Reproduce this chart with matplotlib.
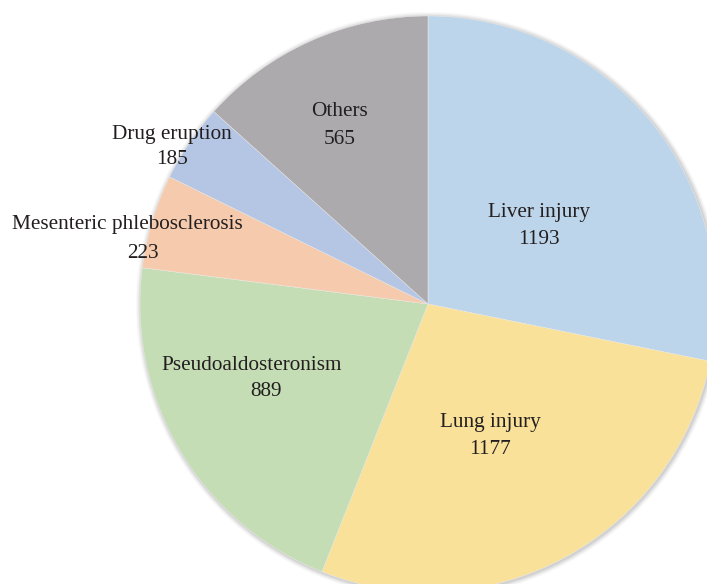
import matplotlib
matplotlib.use("Agg")
import matplotlib.pyplot as plt
from matplotlib.patches import Circle

# 副作用の報告件数
categories = ["Liver injury", "Lung injury", "Pseudoaldosteronism",
              "Mesenteric phlebosclerosis", "Drug eruption", "Others"]
counts = [1193, 1177, 889, 223, 185, 565]

colors = ["#bdd5ea", "#f9e19a", "#c5ddb5", "#f6cbad", "#b4c6e4", "#adaaad"]

# 名称と件数のラベル位置(ピクセル座標、上原点)
name_pos = [(539, 213), (490, 423), (252, 365), (127, 225), (172, 134), (340, 112)]
value_pos = [(539, 240), (490, 450), (266, 391), (143, 253), (172, 160), (340, 139)]

W, H = 707, 584
CX, CY, R = 428, 280, 288

fig = plt.figure(figsize=(W / 100, H / 100), dpi=100)
ax = fig.add_axes([0, 0, 1, 1])

# 外周の淡い影
for i, a in enumerate([0.04, 0.05, 0.07, 0.09, 0.1]):
    ax.add_patch(Circle((CX + 1, CY - 1), R + 5 - i, facecolor="#707070",
                        edgecolor="none", alpha=a, zorder=0))

ax.pie(counts, colors=colors, startangle=90, counterclock=False,
       radius=R, center=(CX, CY),
       wedgeprops=dict(edgecolor="#eeeeee", linewidth=0.3))

txt = dict(ha="center", va="center", fontsize=15.3,
           family="Liberation Serif", color="#231f20", zorder=5)
for name, val, (nx, ny), (vx, vy) in zip(categories, counts, name_pos, value_pos):
    ax.text(nx, H - ny, name, **txt)
    ax.text(vx, H - vy, str(val), **txt)

ax.set_xlim(0, W)
ax.set_ylim(0, H)
ax.set_aspect("auto")
ax.axis("off")

fig.savefig("out.png", dpi=100)
